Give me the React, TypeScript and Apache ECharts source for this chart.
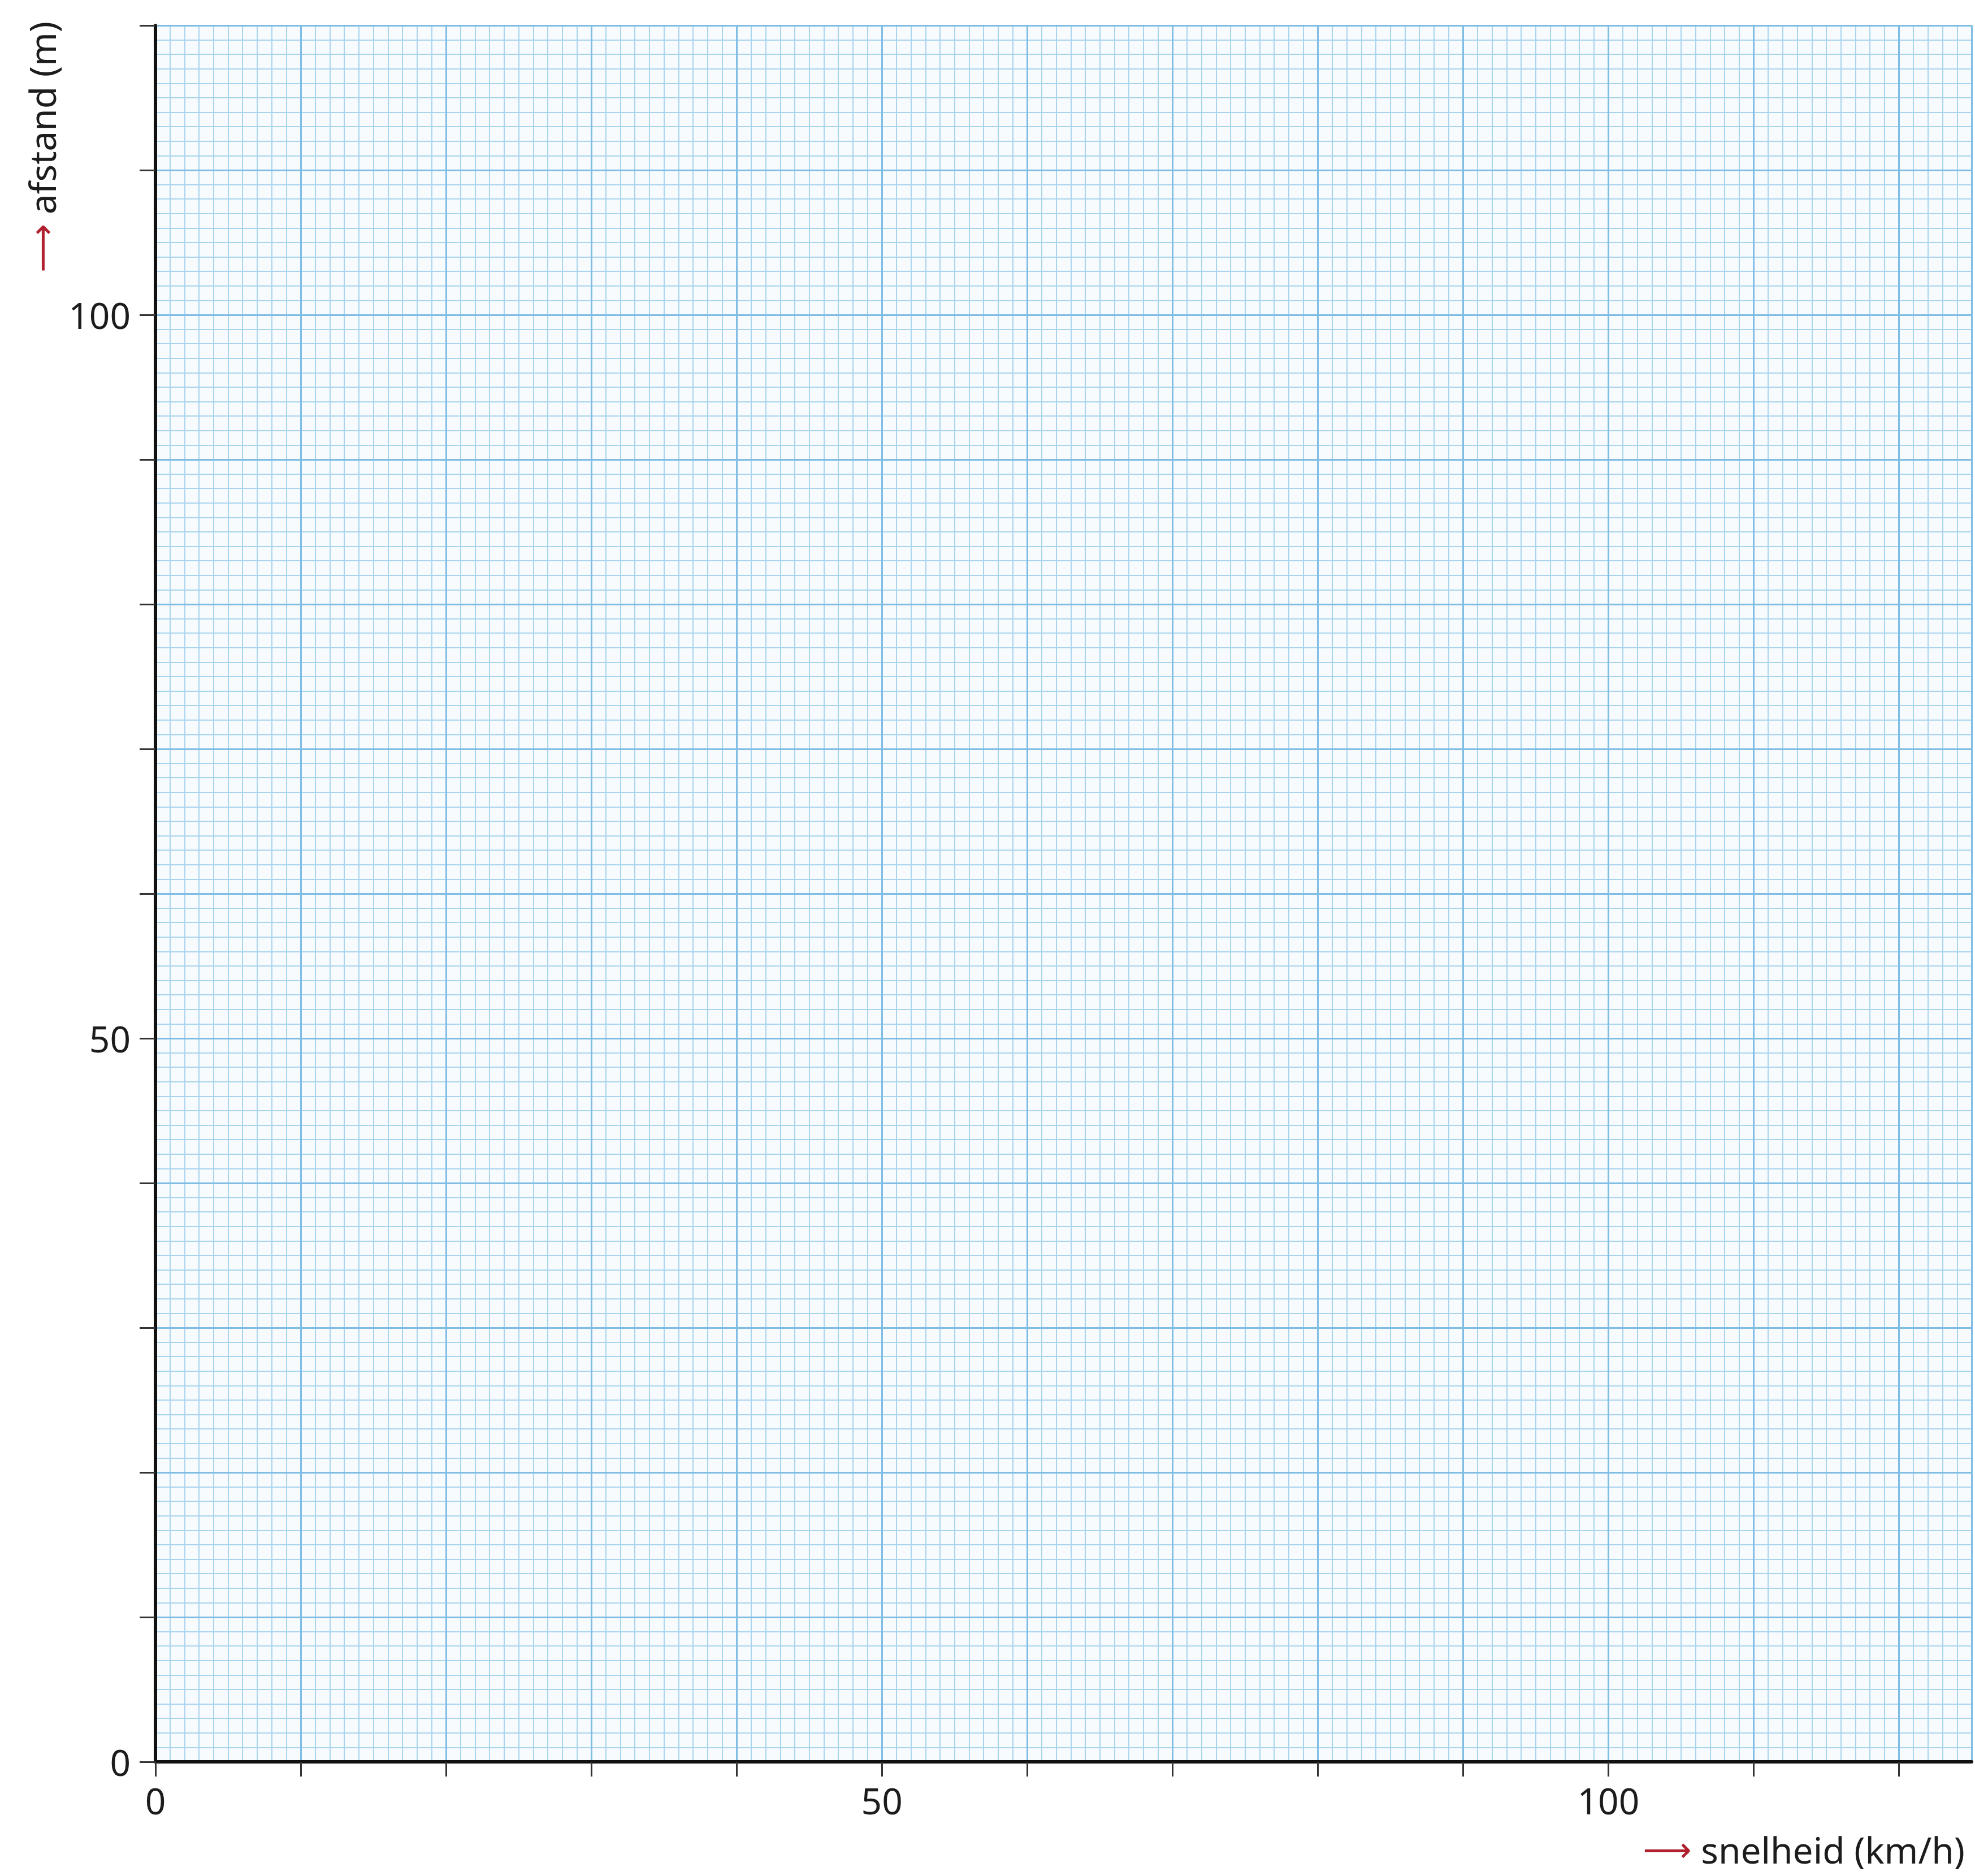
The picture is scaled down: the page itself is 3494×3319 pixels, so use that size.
import React, { useEffect, useRef } from "react";
import * as echarts from "echarts";

// ---- data (empty graph paper: axes only) ----
const X_MIN = 0;
const X_MAX = 125;
const Y_MIN = 0;
const Y_MAX = 120;
const MAJOR_STEP = 10;
const MINOR_STEP = 1;
const xLabelValues = [0, 50, 100];
const yLabelValues = [0, 50, 100];
const xTitle = "snelheid (km/h)";
const yTitle = "afstand (m)";
const points: number[][] = [];

// ---- layout ----
const W = 3494;
const H = 3319;
const LEFT = 275;
const TOP = 45;
const PW = 3213;
const PH = 3072;
const FONT = '"Noto Sans", "DejaVu Sans", sans-serif';
const TXT = "#1c1c1c";
const MINOR_COLOR = "#a9d4ee";
const MAJOR_COLOR = "#80bde4";
const ARROW = "#b0202e";

export default function App() {
  const ref = useRef<HTMLDivElement>(null);
  useEffect(() => {
    document.body.style.margin = "0";
    if (!ref.current) return;
    const chart = echarts.init(ref.current, undefined, { renderer: "svg" });
    const xTickMax = Math.floor(X_MAX / MAJOR_STEP) * MAJOR_STEP;
    const tickGridWidth = (PW * (xTickMax - X_MIN)) / (X_MAX - X_MIN);
    const labelFmt = (vals: number[]) => (v: number) => (vals.includes(v) ? String(v) : "");
    const hidden = { show: false };
    chart.setOption({
      animation: false,
      backgroundColor: "#ffffff",
      grid: [
        { left: LEFT, top: TOP, width: PW, height: PH, show: true, backgroundColor: "#f7fbfe", borderWidth: 0, containLabel: false, outerBoundsMode: "none" },
        { left: LEFT, top: TOP, width: tickGridWidth, height: PH, show: false, containLabel: false, outerBoundsMode: "none" },
      ],
      xAxis: [
        {
          type: "value", gridIndex: 0, position: "bottom", min: X_MIN, max: X_MAX, interval: MINOR_STEP,
          axisLine: hidden, axisTick: hidden, axisLabel: hidden,
          splitLine: { show: true, lineStyle: { color: MINOR_COLOR, width: 2 } },
          z: 0,
        },
        {
          type: "value", gridIndex: 0, position: "bottom", min: X_MIN, max: X_MAX, interval: MAJOR_STEP,
          axisLine: { show: true, onZero: false, lineStyle: { color: "#111", width: 6 } },
          axisTick: hidden, axisLabel: hidden,
          splitLine: { show: true, lineStyle: { color: MAJOR_COLOR, width: 3 } },
          z: 3,
        },
        {
          type: "value", gridIndex: 1, position: "bottom", min: X_MIN, max: xTickMax, interval: MAJOR_STEP,
          axisLine: { show: false, onZero: false },
          axisTick: { show: true, length: 26, lineStyle: { color: "#333", width: 3 } },
          axisLabel: {
            show: true, margin: 36, fontSize: 64, fontFamily: FONT, color: TXT,
            formatter: labelFmt(xLabelValues),
          },
          splitLine: hidden,
          z: 4,
        },
      ],
      yAxis: [
        {
          type: "value", gridIndex: 0, position: "left", min: Y_MIN, max: Y_MAX, interval: MINOR_STEP,
          axisLine: hidden, axisTick: hidden, axisLabel: hidden,
          splitLine: { show: true, lineStyle: { color: MINOR_COLOR, width: 2 } },
          z: 0,
        },
        {
          type: "value", gridIndex: 0, position: "left", min: Y_MIN, max: Y_MAX, interval: MAJOR_STEP,
          axisLine: { show: true, onZero: false, lineStyle: { color: "#111", width: 6 } },
          axisTick: { show: true, length: 28, lineStyle: { color: "#333", width: 3 } },
          axisLabel: {
            show: true, margin: 44, fontSize: 64, fontFamily: FONT, color: TXT,
            formatter: labelFmt(yLabelValues),
          },
          splitLine: { show: true, lineStyle: { color: MAJOR_COLOR, width: 3 } },
          z: 3,
        },
        {
          type: "value", gridIndex: 1, position: "left", min: Y_MIN, max: Y_MAX,
          axisLine: hidden, axisTick: hidden, axisLabel: hidden, splitLine: hidden,
        },
      ],
      series: [
        { type: "scatter", xAxisIndex: 0, yAxisIndex: 0, data: points, symbolSize: 10 },
      ],
      graphic: [
        {
          type: "text", x: 3476, y: 3272, z: 10,
          style: {
            text: "{a|⟶} " + xTitle,
            font: `64px ${FONT}`, fill: TXT, align: "right", verticalAlign: "middle", lineHeight: 70,
            rich: { a: { fill: ARROW, fontSize: 60, fontFamily: '"DejaVu Sans"', lineHeight: 70 } },
          },
        },
        {
          type: "text", x: 74, y: 482, rotation: Math.PI / 2, z: 10,
          style: {
            text: "{a|⟶} " + yTitle,
            font: `64px ${FONT}`, fill: TXT, align: "left", verticalAlign: "middle",
            rich: { a: { fill: ARROW, fontSize: 60, fontFamily: '"DejaVu Sans"' } },
          },
        },
      ],
    });
    return () => chart.dispose();
  }, []);
  return <div ref={ref} style={{ width: W, height: H }} />;
}
